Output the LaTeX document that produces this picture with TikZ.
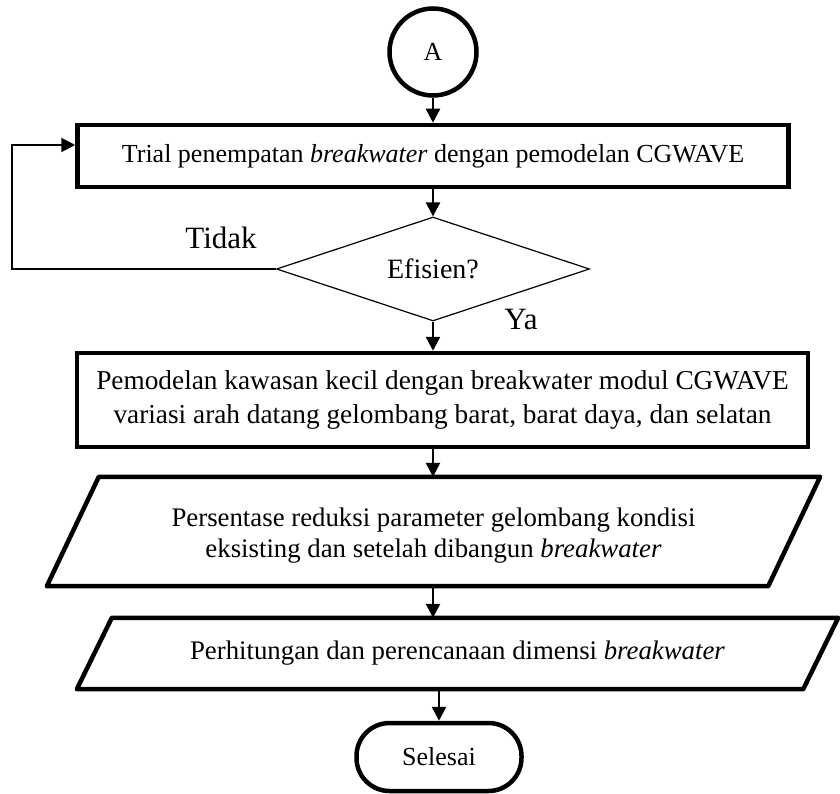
\documentclass[tikz,border=0pt]{standalone}
\usepackage{fontspec}
\setmainfont{Liberation Serif}
\usetikzlibrary{shapes.geometric,arrows.meta}

\begin{document}
\begin{tikzpicture}[x=1pt, y=-1pt,
  every node/.style={font=\fontsize{26}{32.5}\selectfont, align=center},
  proc/.style={draw, rectangle, line width=4.5pt, inner sep=0pt},
  conn/.style={draw, circle, line width=4.5pt, minimum size=87pt, inner sep=0pt},
  dec/.style={draw, diamond, aspect=3, line width=1.2pt, inner sep=0pt, minimum width=313pt, minimum height=104pt},
  term/.style={draw, rectangle, rounded corners=33pt, line width=4.5pt, minimum width=165pt, minimum height=68pt},
  io/.style={line width=4.5pt, line join=round},
  arr/.style={line width=2.5pt, -{Triangle[width=14pt,length=14pt]}},
  lbl/.style={font=\fontsize{31}{36}\selectfont}]
  \useasboundingbox (0,0) rectangle (840,794);

  % --- Nodes (positions chosen to match the drawing) ---
  \node[conn] (a) at (433,52) {A};
  \node[proc, minimum width=711pt, minimum height=62pt] (trial) at (433,156)
    {Trial penempatan \textit{breakwater} dengan pemodelan CGWAVE};
  \node[dec, font=\fontsize{28}{34}\selectfont] (eff) at (433,269) {Efisien?};
  \node[proc, minimum width=731pt, minimum height=94pt, font=\fontsize{27.3}{34}\selectfont] (model) at (442.5,400)
    {Pemodelan kawasan kecil dengan breakwater modul CGWAVE\\
     variasi arah datang gelombang barat, barat daya, dan selatan};
  \node[minimum width=773pt, minimum height=109pt, inner sep=0pt] (pct) at (433.5,531.5) {};
  \node[font=\fontsize{26.8}{31}\selectfont] (pcttxt) at ([yshift=-4pt]pct.center)
    {Persentase reduksi parameter gelombang kondisi\\
     eksisting dan setelah dibangun \textit{breakwater}};
  \node[minimum width=761pt, minimum height=71pt, inner sep=0pt, font=\fontsize{26.8}{32}\selectfont] (dim) at (457.5,653.5)
    {Perhitungan dan perencanaan dimensi \textit{breakwater}};
  \node[term] (stop) at (439,757) {Selesai};

  \node[lbl] (no) at (221,238) {Tidak};
  \node[lbl] (yes) at (521,320) {Ya};

  % --- Input/output shapes ---
  \draw[io] ([xshift=52pt]pct.north west) -- (pct.north east)
    -- ([xshift=-52pt]pct.south east) -- (pct.south west) -- cycle;
  \draw[io] ([xshift=35pt]dim.north west) -- (dim.north east)
    -- ([xshift=-35pt]dim.south east) -- (dim.south west) -- cycle;

  % --- Arrows ---
  \draw[arr] (a) -- (trial);
  \draw[arr] (trial) -- (eff);
  \draw[arr] (eff.south) -- (eff.south |- model.north);
  \draw[arr] (eff.south |- model.south) -- (eff.south |- pct.north);
  \draw[arr] (eff.south |- pct.south) -- (eff.south |- dim.north);
  \draw[arr] (stop.north |- dim.south) -- (stop.north);

  % back to the trial box
  \coordinate (back) at (12,145);
  \draw[arr, line width=2pt] (eff.west) -| (back) -- (back -| trial.west);
\end{tikzpicture}
\end{document}
